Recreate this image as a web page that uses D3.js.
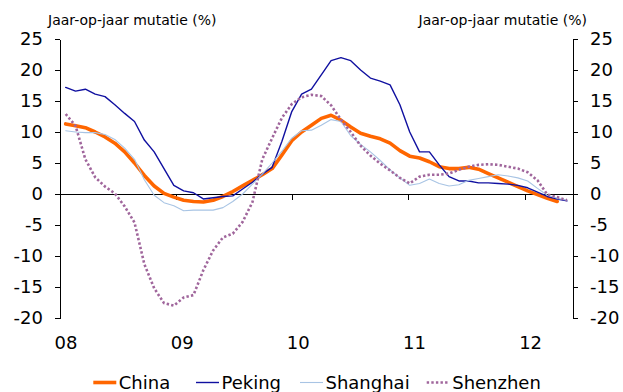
<!DOCTYPE html>
<html>
<head>
<meta charset="utf-8">
<script src="https://cdn.jsdelivr.net/npm/d3@7"></script>
<style>
  html, body { margin: 0; padding: 0; background: #ffffff; }
  svg { display: block; }
  text { font-family: "DejaVu Sans", Verdana, sans-serif; fill: #000; }
</style>
</head>
<body>
<svg id="chart" width="623" height="392"></svg>
<script>
// ---- data ----
const yearLabels = ["08", "09", "10", "11", "12"];
const yTicks = [-20, -15, -10, -5, 0, 5, 10, 15, 20, 25];
const axisTitle = "Jaar-op-jaar mutatie (%)";
const seriesNames = ["China", "Peking", "Shanghai", "Shenzhen"];

const china = [11.3, 11.0, 10.7, 10.0, 9.2, 8.2, 6.8, 5.0, 3.0, 1.3,
  0.1, -0.5, -1.0, -1.2, -1.3, -1.0, -0.4, 0.4, 1.3, 2.2,
  3.1, 4.1, 6.3, 8.6, 10.0, 11.1, 12.2, 12.7, 11.9, 10.8,
  9.8, 9.3, 8.9, 8.2, 7.0, 6.1, 5.8, 5.2, 4.4, 4.1,
  4.1, 4.3, 4.0, 3.3, 2.6, 1.9, 1.2, 0.5, -0.1, -0.7,
  -1.2];
const peking = [17.2, 16.6, 16.9, 16.1, 15.7, 14.4, 13.0, 11.7, 8.7, 6.8,
  4.1, 1.4, 0.5, 0.2, -0.8, -0.6, -0.4, -0.3, 0.8, 1.9,
  3.2, 4.3, 8.5, 13.3, 16.1, 16.9, 19.2, 21.5, 22.0, 21.5,
  20.0, 18.7, 18.2, 17.6, 14.4, 10.0, 6.8, 6.8, 4.7, 2.8,
  2.1, 2.1, 1.8, 1.8, 1.7, 1.6, 1.4, 1.0, 0.3, -0.4,
  -0.8, -1.1];
const shanghai = [10.2, 10.0, 9.9, 9.9, 9.6, 8.8, 7.4, 5.6, 2.3, -0.2,
  -1.4, -1.9, -2.7, -2.6, -2.6, -2.6, -2.2, -1.2, 0.0, 1.6,
  3.2, 5.0, 6.9, 9.0, 10.2, 10.3, 11.1, 12.0, 11.7, 9.4,
  8.0, 6.8, 5.4, 3.9, 2.6, 1.4, 1.7, 2.4, 1.7, 1.3,
  1.5, 2.2, 2.5, 2.8, 3.1, 2.9, 2.6, 2.1, 0.9, -0.2,
  -0.7, -1.0];
const shenzhen = [12.9, 11.0, 5.6, 2.7, 1.2, 0.1, -2.0, -4.6, -11.3, -15.2,
  -17.6, -18.0, -16.7, -16.3, -12.3, -9.1, -7.0, -6.4, -4.5, -1.3,
  5.6, 9.0, 12.3, 14.5, 15.6, 16.0, 15.8, 14.3, 12.0, 10.0,
  7.8, 6.2, 4.9, 3.8, 2.6, 1.7, 2.8, 3.1, 3.1, 3.3,
  3.9, 4.4, 4.7, 4.8, 4.7, 4.4, 4.1, 3.5, 2.2, -0.1,
  -0.5, -1.0];

// ---- layout ----
const svg = d3.select("#chart");
const plotLeft = 60, plotRight = 573, plotTop = 39, plotBottom = 318;
const monthsOnAxis = 53;

const y = d3.scaleLinear().domain([-20, 25]).range([plotBottom, plotTop]);
const xAxisScale = d3.scaleLinear().domain([0, monthsOnAxis]).range([plotLeft, plotRight]);
const xPoint = d3.scaleLinear().domain([0, 51]).range([65.7, 567]);

svg.append("rect").attr("width", 623).attr("height", 392).attr("fill", "#fff");

// titles
svg.append("text").attr("x", 48).attr("y", 24.5).attr("font-size", 14).text(axisTitle);
svg.append("text").attr("x", 587).attr("y", 24.5).attr("font-size", 14)
  .attr("text-anchor", "end").text(axisTitle);

// left / right axes
const yLeft = svg.append("g").attr("transform", `translate(${plotLeft},0)`)
  .call(d3.axisLeft(y).tickValues(yTicks).tickSize(5).tickSizeOuter(0)
    .tickPadding(12).tickFormat(d => String(d)));
const yRight = svg.append("g").attr("transform", `translate(${plotRight},0)`)
  .call(d3.axisRight(y).tickValues(yTicks).tickSize(5).tickSizeOuter(0)
    .tickPadding(12).tickFormat(d => String(d)));
[yLeft, yRight].forEach(g => {
  g.selectAll("text").attr("font-size", 18).attr("font-family", "DejaVu Sans, sans-serif").attr("fill", "#000");
  g.selectAll("path, line").attr("stroke", "#000").attr("shape-rendering", "crispEdges");
});

// zero line with year ticks
const xg = svg.append("g").attr("transform", `translate(0,${y(0)})`)
  .call(d3.axisBottom(xAxisScale).tickValues([0, 12, 24, 36, 48]).tickSize(6)
    .tickSizeOuter(0).tickFormat(""));
xg.selectAll("path, line").attr("stroke", "#000").attr("shape-rendering", "crispEdges");

// year labels
svg.append("g").selectAll("text").data(yearLabels).join("text")
  .attr("x", (d, i) => xAxisScale(i * 12) + 6)
  .attr("y", 349)
  .attr("text-anchor", "middle")
  .attr("font-size", 18)
  .text(d => d);

// series
const styles = [
  { color: "#FF6600", width: 3.6, dash: null, cap: "round" },
  { color: "#1010A0", width: 1.4, dash: null, cap: "round" },
  { color: "#A8C4E4", width: 1.1, dash: null, cap: "round" },
  { color: "#A0669C", width: 2.6, dash: "2.4,2.2", cap: "butt" }
];
const allSeries = [china, peking, shanghai, shenzhen];
const line = d3.line().x((d, i) => xPoint(i)).y(d => y(d));

allSeries.forEach((s, k) => {
  const p = svg.append("path").datum(s)
    .attr("fill", "none")
    .attr("stroke", styles[k].color)
    .attr("stroke-width", styles[k].width)
    .attr("stroke-linejoin", "round")
    .attr("stroke-linecap", styles[k].cap)
    .attr("d", line);
  if (styles[k].dash) p.attr("stroke-dasharray", styles[k].dash);
});

// legend
const legendX = [93.3, 196, 300, 426.7];
const lg = svg.append("g").selectAll("g").data(seriesNames).join("g")
  .attr("transform", (d, i) => `translate(${legendX[i]},0)`);
lg.append("line").attr("x1", 0).attr("x2", 23).attr("y1", 382.5).attr("y2", 382.5)
  .attr("stroke", (d, i) => styles[i].color)
  .attr("stroke-width", (d, i) => styles[i].width)
  .attr("stroke-dasharray", (d, i) => styles[i].dash);
lg.append("text").attr("x", 25.5).attr("y", 389).attr("font-size", 18).text(d => d);
</script>
</body>
</html>
